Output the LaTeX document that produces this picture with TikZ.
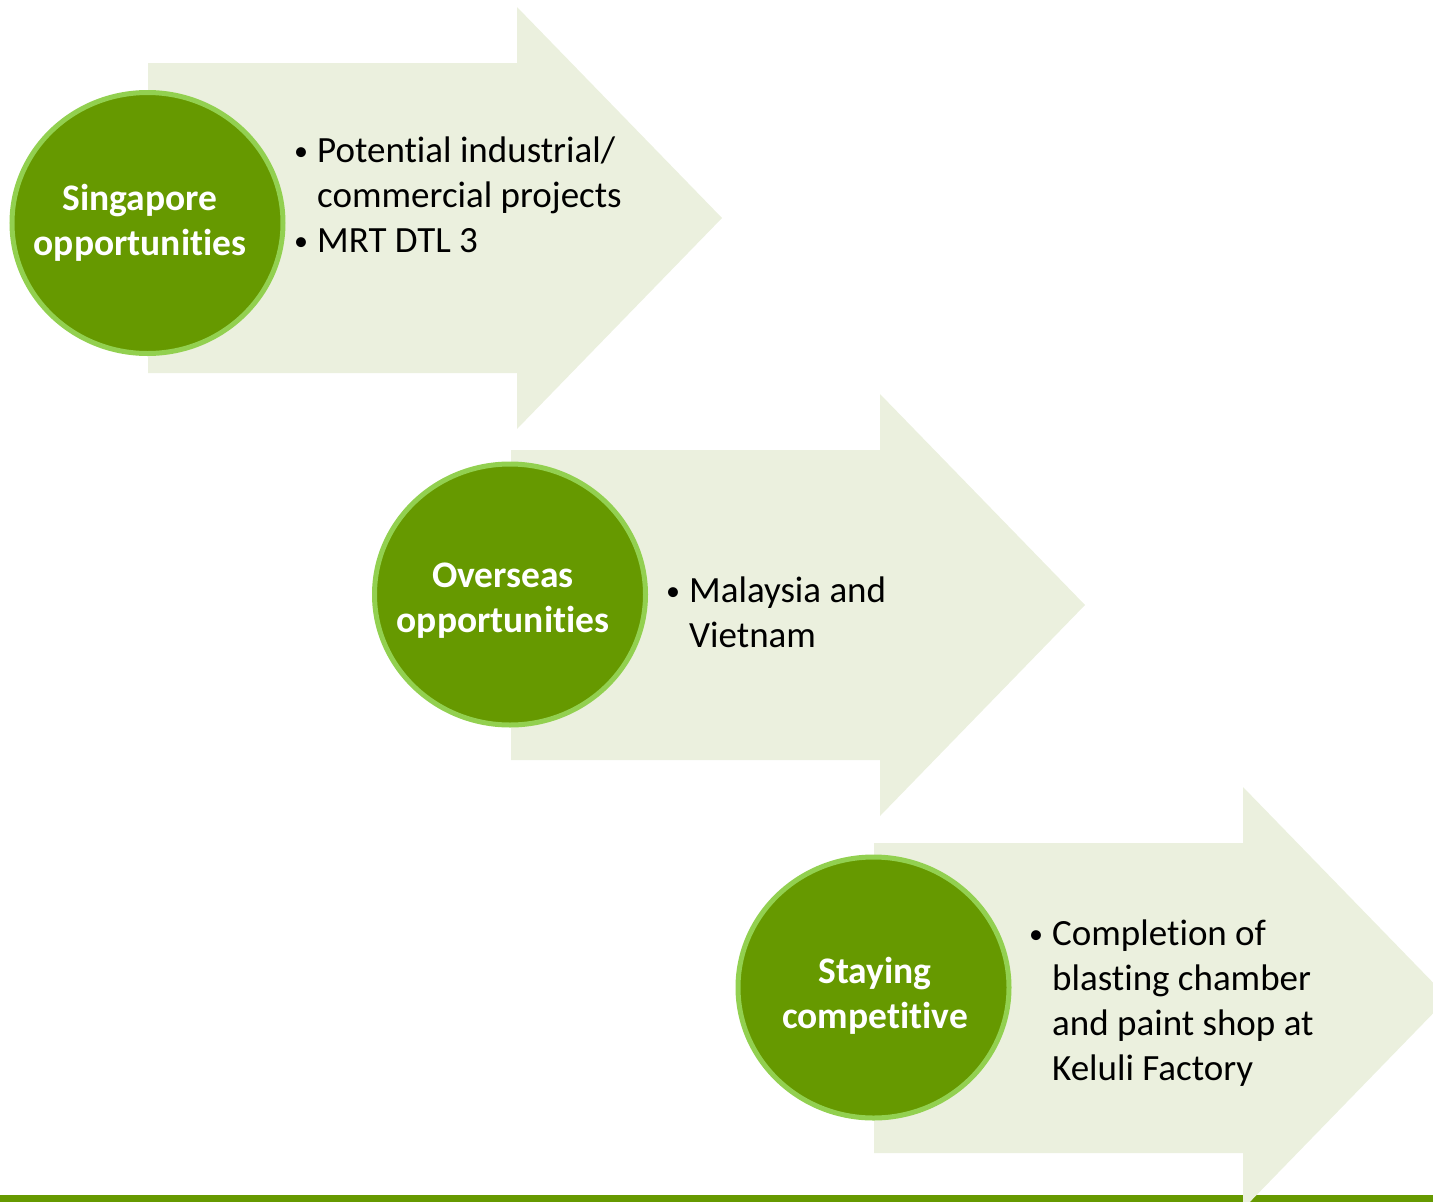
\documentclass[tikz,border=0pt]{standalone}
\usepackage{fontspec}
\setmainfont{Carlito}[Ligatures=NoCommon]
\usetikzlibrary{shapes.geometric}

\definecolor{arrowfill}{HTML}{EBF0DE}
\definecolor{discfill}{HTML}{669900}
\definecolor{discline}{HTML}{92D050}

% bullet with hanging indent
\newcommand{\bul}{\makebox[23pt][l]{\raisebox{2pt}{\fontsize{28}{28}\selectfont\textbullet}}}

\begin{document}
\begin{tikzpicture}[x=1pt, y=-1pt,
    disc/.style={draw=discline, line width=5pt, fill=discfill, ellipse, minimum width=271pt, minimum height=261pt, inner sep=0pt},
    lab/.style={anchor=base, inner sep=0pt, text=white, font=\fontsize{37.5}{45}\selectfont\bfseries},
    txt/.style={anchor=base west, inner sep=0pt, text=black, font=\fontsize{37}{45}\selectfont}
]
\useasboundingbox (0,0) rectangle (1433,1202);

% bottom bar
\fill[discfill] (0,1195) rectangle (1433,1202);

% block arrows
\foreach \ax/\ay in {148/218, 511/605, 874/998}{
  \fill[arrowfill] (\ax,\ay-155) -- ++(369,0) -- ++(0,-56) -- (\ax+574,\ay)
    -- (\ax+369,\ay+211) -- ++(0,-56) -- (\ax,\ay+155) -- cycle;
}

% circles
\node[disc] (sg) at (147.5,223) {};
\node[disc] (os) at (510,594.5) {};
\node[disc] (sc) at (873.5,987.5) {};

\node[lab] (sglab) at (140,210) {\begin{tabular}[t]{@{}c@{}}Singapore\\opportunities\end{tabular}};
\node[lab] (oslab) at (503,587) {\begin{tabular}[t]{@{}c@{}}Overseas\\opportunities\end{tabular}};
\node[lab] (sclab) at (875,983) {\begin{tabular}[t]{@{}c@{}}Staying\\competitive\end{tabular}};

% bullet texts
\node[txt] (sgtxt) at (294,162) {\begin{tabular}[t]{@{}l@{}l@{}}\bul & Potential industrial/\\ & commercial projects\\ \bul & MRT DTL 3\end{tabular}};
\node[txt] (ostxt) at (666,602) {\begin{tabular}[t]{@{}l@{}l@{}}\bul & Malaysia and\\ & Vietnam\end{tabular}};
\node[txt] (sctxt) at (1029,945) {\begin{tabular}[t]{@{}l@{}l@{}}\bul & Completion of\\ & blasting chamber\\ & and paint shop at\\ & Keluli Factory\end{tabular}};
\end{tikzpicture}
\end{document}
